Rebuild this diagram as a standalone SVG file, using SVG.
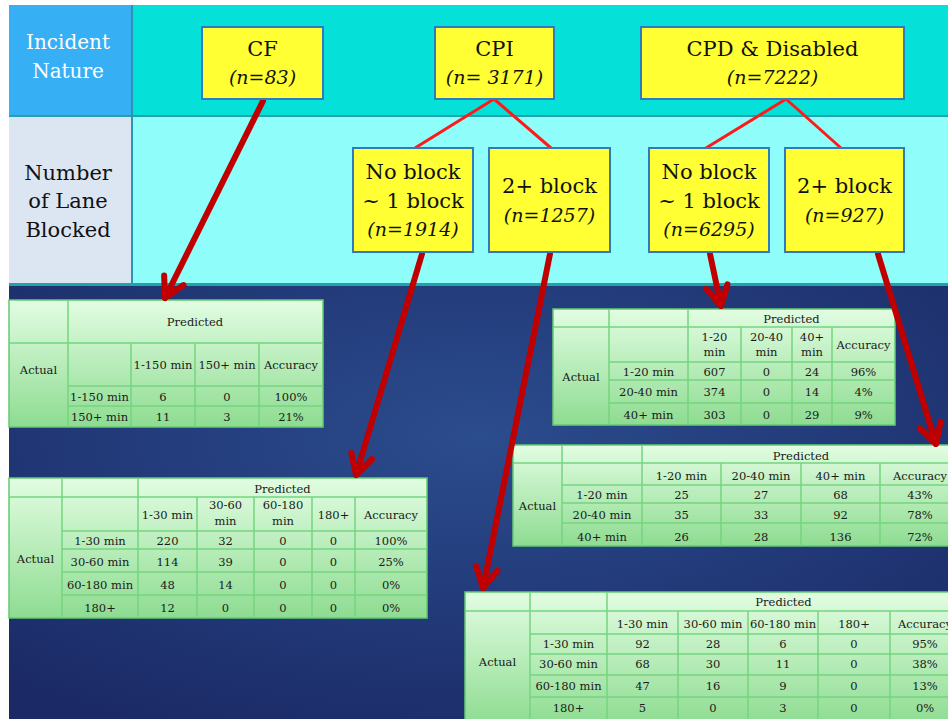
<svg xmlns="http://www.w3.org/2000/svg" width="948" height="719" viewBox="0 0 948 719" font-family="DejaVu Serif, Liberation Serif, serif">
  <defs>
    <radialGradient id="slideBlue" cx="50%" cy="35%" r="75%">
      <stop offset="0" stop-color="#2B4C8D"/>
      <stop offset="1" stop-color="#1B2A67"/>
    </radialGradient>
    <linearGradient id="tableGreen" x1="0" y1="0" x2="0" y2="1">
      <stop offset="0" stop-color="#E2FDE2"/>
      <stop offset="1" stop-color="#8EDC91"/>
    </linearGradient>
    <marker id="vHead" markerUnits="strokeWidth" markerWidth="6" markerHeight="6" refX="0" refY="0" orient="auto" overflow="visible" viewBox="-5 -3 6 6">
      <path d="M-3.3,-1.8 L0,0 L-3.3,1.8" fill="none" stroke="#C00000" stroke-width="1" stroke-linecap="round" stroke-linejoin="round"/>
    </marker>
    <style>
      text { font-family: 'DejaVu Serif', 'Liberation Serif', serif; }
      .lbl { font-size: 20px; text-anchor: middle; }
      .lbl2 { font-size: 21px; text-anchor: middle; }
      .node rect { fill: #FFFF33; stroke: #2F7BBE; stroke-width: 2; }
      .t1 { font-size: 21px; text-anchor: middle; fill: #111; }
      .t2 { font-size: 21px; text-anchor: middle; fill: #111; }
      .it { font-style: italic; font-size: 19px; }
      .tbl rect.bg { fill: url(#tableGreen); stroke: #62CC72; stroke-width: 1.5; }
      .tbl path { fill: none; stroke: #74D57F; stroke-width: 1.5; }
      .tbl text { font-size: 11.5px; text-anchor: middle; fill: #1A1A1A; }
      .thin { stroke: #FF1A1A; stroke-width: 3; fill: none; stroke-linecap: round; }
      .thick { stroke: #C00000; stroke-width: 6; fill: none; stroke-linecap: round; marker-end: url(#vHead); }
    </style>
  </defs>

  <rect x="0" y="0" width="948" height="719" fill="#FFFFFF"/>

  <!-- header bands -->
  <g id="bands">
    <rect x="9" y="5" width="939" height="112" fill="#05E0D8"/>
    <rect x="9" y="5" width="123" height="112" fill="#37AFF5"/>
    <rect x="9" y="117" width="939" height="167" fill="#8FFDF9"/>
    <rect x="9" y="117" width="123" height="167" fill="#DCE5F2"/>
    <rect x="9" y="285" width="939" height="434" fill="url(#slideBlue)"/>
    <line x1="9" y1="116" x2="948" y2="116" stroke="#22A3A9" stroke-width="2"/>
    <line x1="132" y1="5" x2="132" y2="284" stroke="#2A95B2" stroke-width="2"/>
    <line x1="9" y1="284.5" x2="948" y2="284.5" stroke="#1FA5A6" stroke-width="3"/>
    <text class="lbl" x="68" y="49" fill="#FFFFFF">Incident</text>
    <text class="lbl" x="68" y="78" fill="#FFFFFF">Nature</text>
    <text class="lbl2" x="68" y="180" fill="#111">Number</text>
    <text class="lbl2" x="68" y="208" fill="#111">of Lane</text>
    <text class="lbl2" x="68" y="237" fill="#111">Blocked</text>
  </g>

  <!-- confusion tables -->
  <g id="table-cf" class="tbl">
    <rect class="bg" x="9" y="300" width="314" height="127"/>
    <path d="M68,300V427 M131,343V427 M195,343V427 M259,343V427 M9,343H323 M68,386H323 M68,406H323"/>
    <text x="195" y="326">Predicted</text>
    <text x="38.5" y="374">Actual</text>
    <text x="163" y="369">1-150 min</text><text x="227" y="369">150+ min</text><text x="291" y="369">Accuracy</text>
    <text x="99.5" y="401">1-150 min</text><text x="163" y="401">6</text><text x="227" y="401">0</text><text x="291" y="401">100%</text>
    <text x="99.5" y="421">150+ min</text><text x="163" y="421">11</text><text x="227" y="421">3</text><text x="291" y="421">21%</text>
  </g>

  <g id="table-cpd-noblock" class="tbl">
    <rect class="bg" x="553" y="309" width="342" height="116"/>
    <path d="M609,309V425 M688,309V425 M741,327V425 M792,327V425 M832,327V425 M553,327H895 M609,362H895 M609,380H895 M609,403H895"/>
    <text x="791.5" y="323">Predicted</text>
    <text x="581" y="381">Actual</text>
    <text x="714.5" y="341">1-20</text><text x="714.5" y="356">min</text>
    <text x="766.5" y="341">20-40</text><text x="766.5" y="356">min</text>
    <text x="812" y="341">40+</text><text x="812" y="356">min</text>
    <text x="863.5" y="349">Accuracy</text>
    <text x="648.5" y="376">1-20 min</text><text x="714.5" y="376">607</text><text x="766.5" y="376">0</text><text x="812" y="376">24</text><text x="863.5" y="376">96%</text>
    <text x="648.5" y="396">20-40 min</text><text x="714.5" y="396">374</text><text x="766.5" y="396">0</text><text x="812" y="396">14</text><text x="863.5" y="396">4%</text>
    <text x="648.5" y="419">40+ min</text><text x="714.5" y="419">303</text><text x="766.5" y="419">0</text><text x="812" y="419">29</text><text x="863.5" y="419">9%</text>
  </g>

  <g id="table-cpd-2block" class="tbl">
    <rect class="bg" x="513" y="445" width="447" height="101"/>
    <path d="M562,445V546 M642,445V546 M721,463V546 M801,463V546 M880,463V546 M513,463H960 M562,485H960 M562,503H960 M562,523H960"/>
    <text x="801" y="460">Predicted</text>
    <text x="537.5" y="510">Actual</text>
    <text x="681.5" y="480">1-20 min</text><text x="761" y="480">20-40 min</text><text x="840.5" y="480">40+ min</text><text x="920" y="480">Accuracy</text>
    <text x="602" y="499">1-20 min</text><text x="681.5" y="499">25</text><text x="761" y="499">27</text><text x="840.5" y="499">68</text><text x="920" y="499">43%</text>
    <text x="602" y="519">20-40 min</text><text x="681.5" y="519">35</text><text x="761" y="519">33</text><text x="840.5" y="519">92</text><text x="920" y="519">78%</text>
    <text x="602" y="541">40+ min</text><text x="681.5" y="541">26</text><text x="761" y="541">28</text><text x="840.5" y="541">136</text><text x="920" y="541">72%</text>
  </g>

  <g id="table-cpi-noblock" class="tbl">
    <rect class="bg" x="9" y="478" width="418" height="140"/>
    <path d="M62,478V618 M138,478V618 M197,497V618 M254,497V618 M312,497V618 M355,497V618 M9,497H427 M62,531H427 M62,549H427 M62,572H427 M62,595H427"/>
    <text x="282.5" y="493">Predicted</text>
    <text x="35.5" y="563">Actual</text>
    <text x="167.5" y="519">1-30 min</text>
    <text x="225.5" y="509">30-60</text><text x="225.5" y="525">min</text>
    <text x="283" y="509">60-180</text><text x="283" y="525">min</text>
    <text x="333.5" y="519">180+</text><text x="391" y="519">Accuracy</text>
    <text x="100" y="545">1-30 min</text><text x="167.5" y="545">220</text><text x="225.5" y="545">32</text><text x="283" y="545">0</text><text x="333.5" y="545">0</text><text x="391" y="545">100%</text>
    <text x="100" y="566">30-60 min</text><text x="167.5" y="566">114</text><text x="225.5" y="566">39</text><text x="283" y="566">0</text><text x="333.5" y="566">0</text><text x="391" y="566">25%</text>
    <text x="100" y="589">60-180 min</text><text x="167.5" y="589">48</text><text x="225.5" y="589">14</text><text x="283" y="589">0</text><text x="333.5" y="589">0</text><text x="391" y="589">0%</text>
    <text x="100" y="612">180+</text><text x="167.5" y="612">12</text><text x="225.5" y="612">0</text><text x="283" y="612">0</text><text x="333.5" y="612">0</text><text x="391" y="612">0%</text>
  </g>

  <g id="table-cpi-2block" class="tbl">
    <rect class="bg" x="465" y="592" width="495" height="133"/>
    <path d="M530,592V725 M607,592V725 M678,611V725 M748,611V725 M818,611V725 M890,611V725 M465,611H960 M530,634H960 M530,654H960 M530,675H960 M530,697H960"/>
    <text x="783.5" y="606">Predicted</text>
    <text x="497.5" y="666">Actual</text>
    <text x="642.5" y="628">1-30 min</text><text x="713" y="628">30-60 min</text><text x="783" y="628">60-180 min</text><text x="854" y="628">180+</text><text x="925" y="628">Accuracy</text>
    <text x="568.5" y="648">1-30 min</text><text x="642.5" y="648">92</text><text x="713" y="648">28</text><text x="783" y="648">6</text><text x="854" y="648">0</text><text x="925" y="648">95%</text>
    <text x="568.5" y="668">30-60 min</text><text x="642.5" y="668">68</text><text x="713" y="668">30</text><text x="783" y="668">11</text><text x="854" y="668">0</text><text x="925" y="668">38%</text>
    <text x="568.5" y="690">60-180 min</text><text x="642.5" y="690">47</text><text x="713" y="690">16</text><text x="783" y="690">9</text><text x="854" y="690">0</text><text x="925" y="690">13%</text>
    <text x="568.5" y="712">180+</text><text x="642.5" y="712">5</text><text x="713" y="712">0</text><text x="783" y="712">3</text><text x="854" y="712">0</text><text x="925" y="712">0%</text>
  </g>

  <!-- connectors -->
  <g id="connectors">
    <line class="thin" x1="494" y1="99" x2="415" y2="148"/>
    <line class="thin" x1="494" y1="99" x2="551" y2="148"/>
    <line class="thin" x1="786" y1="99" x2="706" y2="148"/>
    <line class="thin" x1="786" y1="99" x2="841" y2="148"/>
    <line class="thick" x1="263" y1="101" x2="165" y2="298"/>
    <line class="thick" x1="422" y1="254" x2="356" y2="475"/>
    <line class="thick" x1="550" y1="254" x2="483" y2="588"/>
    <line class="thick" x1="710" y1="254" x2="721" y2="306"/>
    <line class="thick" x1="878" y1="254" x2="936" y2="444"/>
  </g>

  <!-- incident nature nodes -->
  <g id="node-cf" class="node">
    <rect x="202" y="27" width="121" height="72"/>
    <text class="t1" x="262.5" y="56">CF</text>
    <text class="t1 it" x="262.5" y="84">(n=83)</text>
  </g>
  <g id="node-cpi" class="node">
    <rect x="435" y="27" width="119" height="72"/>
    <text class="t1" x="494.5" y="56">CPI</text>
    <text class="t1 it" x="494.5" y="84">(n= 3171)</text>
  </g>
  <g id="node-cpd" class="node">
    <rect x="641" y="27" width="263" height="72"/>
    <text class="t1" x="772.5" y="56">CPD &amp; Disabled</text>
    <text class="t1 it" x="772.5" y="84">(n=7222)</text>
  </g>

  <!-- lanes blocked nodes -->
  <g id="node-cpi-noblock" class="node">
    <rect x="353" y="148" width="120" height="104"/>
    <text class="t2" x="413" y="179">No block</text>
    <text class="t2" x="413" y="208">~ 1 block</text>
    <text class="t2 it" x="413" y="236">(n=1914)</text>
  </g>
  <g id="node-cpi-2block" class="node">
    <rect x="489" y="148" width="121" height="104"/>
    <text class="t2" x="549.5" y="193">2+ block</text>
    <text class="t2 it" x="549.5" y="222">(n=1257)</text>
  </g>
  <g id="node-cpd-noblock" class="node">
    <rect x="649" y="148" width="120" height="104"/>
    <text class="t2" x="709" y="179">No block</text>
    <text class="t2" x="709" y="208">~ 1 block</text>
    <text class="t2 it" x="709" y="236">(n=6295)</text>
  </g>
  <g id="node-cpd-2block" class="node">
    <rect x="785" y="148" width="119" height="104"/>
    <text class="t2" x="844.5" y="193">2+ block</text>
    <text class="t2 it" x="844.5" y="222">(n=927)</text>
  </g>
</svg>
